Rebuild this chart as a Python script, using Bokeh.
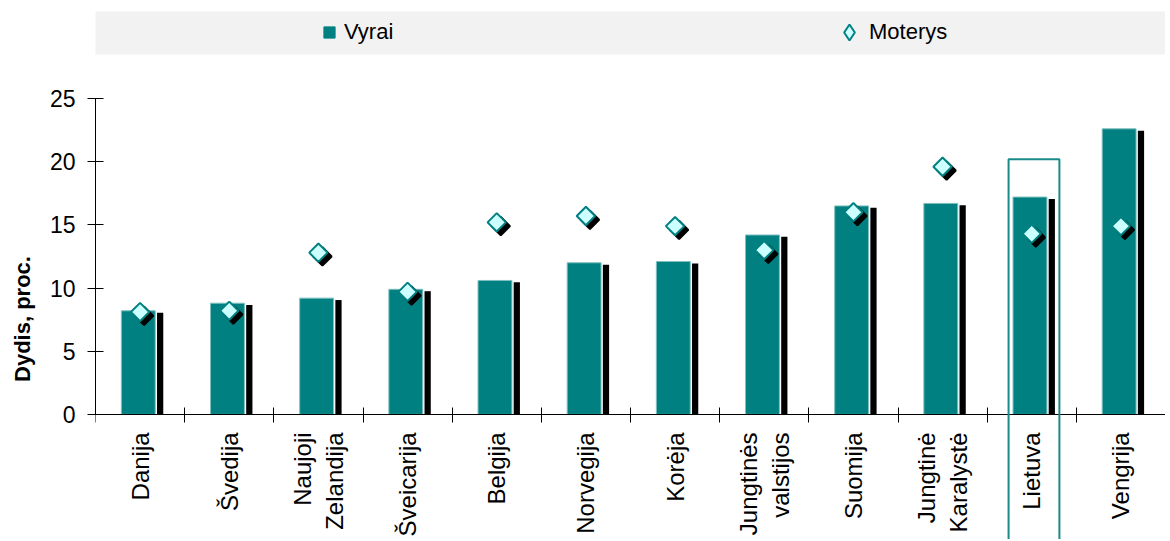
import math
from bokeh.plotting import figure
from bokeh.models import (Range1d, LinearAxis, FixedTicker, PolyAnnotation, Legend,
                          LegendItem, ColumnDataSource)
from bokeh.layouts import column
from bokeh.transform import dodge
from bokeh.embed import file_html
from bokeh.resources import INLINE

# ---------------- data ----------------
countries = ["Danija", "Švedija", "Naujoji\nZelandija", "Šveicarija", "Belgija",
             "Norvegija", "Korėja", "Jungtinės\nvalstijos", "Suomija",
             "Jungtinė\nKaralystė", "Lietuva", "Vengrija"]
vyrai = [8.2, 8.8, 9.2, 9.9, 10.6, 12.0, 12.1, 14.2, 16.5, 16.7, 17.2, 22.6]
moterys = [8.1, 8.2, 12.8, 9.7, 15.2, 15.7, 14.9, 13.0, 16.0, 19.6, 14.3, 14.9]
y_ticks = [0, 5, 10, 15, 20, 25]
series_names = ["Vyrai", "Moterys"]
highlight_country = "Lietuva"
highlight_top = 20.2
y_label = "Dydis, proc."

# ---------------- style / layout ----------------
TEAL = "#008080"
FONT = "Liberation Sans"
W = 1165
Y_MAX = 25
Y_VIEW_MIN = -9.9   # room below zero for the category labels

idx = list(range(len(countries)))
src = ColumnDataSource(dict(
    xc=[i + 0.5 for i in idx],
    vyrai=vyrai,
    moterys=moterys,
    shadow_top=[v - 0.15 for v in vyrai],
))

# ---------------- main plot ----------------
p = figure(width=W, height=480, x_range=Range1d(0, len(countries)),
           y_range=Range1d(Y_VIEW_MIN, Y_MAX),
           x_axis_type=None, y_axis_type=None, toolbar_location=None,
           output_backend="svg", min_border_left=95, min_border_right=0,
           min_border_top=39, min_border_bottom=0)
p.outline_line_color = None

# shadow bars
p.vbar(x=dodge("xc", 0.225, range=p.x_range), top="shadow_top", bottom=0, width=0.07,
       source=src, fill_color="black", line_color=None)
# teal bars
p.vbar(x=dodge("xc", -0.02, range=p.x_range), top="vyrai", bottom=0, width=0.38,
       source=src, fill_color=TEAL, line_color="#7fbfbf", line_width=1)
# diamond shadows
p.scatter(x=dodge("xc", 0.045, range=p.x_range), y=dodge("moterys", -0.3, range=p.y_range),
          source=src, marker="square", angle=math.pi / 4, size=13,
          fill_color="black", line_color="black", line_width=2)
# diamonds
p.scatter(x="xc", y="moterys", source=src, marker="square", angle=math.pi / 4, size=13,
          fill_color="#ccffff", line_color=TEAL, line_width=2)

# highlight box (runs down through the label area)
hi = countries.index(highlight_country)
hl, hr = hi + 0.24, hi + 0.81
p.add_layout(PolyAnnotation(xs=[hl, hl, hr, hr],
                            ys=[Y_VIEW_MIN - 2, highlight_top, highlight_top, Y_VIEW_MIN - 2],
                            fill_alpha=0, line_color="#1a8a8a", line_alpha=1, line_width=2,
                            level="overlay"))

# y axis
yax = LinearAxis(ticker=FixedTicker(ticks=y_ticks), axis_label=y_label, bounds=(0, Y_MAX))
yax.major_tick_in = 8
yax.major_tick_out = 8
yax.minor_tick_line_color = None
yax.major_label_standoff = 12
yax.major_label_text_font = FONT
yax.major_label_text_font_size = "23px"
yax.major_label_text_color = "black"
yax.axis_label_text_font = FONT
yax.axis_label_text_font_size = "22px"
yax.axis_label_text_font_style = "bold"
yax.axis_label_text_color = "black"
yax.axis_label_standoff = 12
yax.axis_line_color = "black"
yax.major_tick_line_color = "black"
p.add_layout(yax, "left")

# x axis: separators, drawn at y = 0
xa = LinearAxis(ticker=FixedTicker(ticks=list(range(len(countries) + 1))), fixed_location=0)
xa.major_tick_in = 7
xa.major_tick_out = 8
xa.major_label_text_font_size = "0px"
xa.major_label_standoff = 0
xa.minor_tick_line_color = None
xa.axis_line_color = "black"
xa.major_tick_line_color = "black"
p.add_layout(xa, "below")

# x axis: category labels, hanging below y = 0
xb = LinearAxis(ticker=FixedTicker(ticks=[i + 0.5 for i in idx]), fixed_location=0,
                major_label_overrides={i + 0.5: c for i, c in zip(idx, countries)})
xb.axis_line_color = None
xb.major_tick_line_color = None
xb.minor_tick_line_color = None
xb.major_tick_in = 0
xb.major_tick_out = 0
xb.major_label_orientation = math.pi / 2
xb.major_label_standoff = 18
xb.major_label_text_font = FONT
xb.major_label_text_font_size = "24px"
xb.major_label_text_color = "black"
p.add_layout(xb, "below")

# ---------------- legend strip ----------------
lg = figure(width=W, height=59, x_range=Range1d(0, 1), y_range=Range1d(0, 1),
            x_axis_type=None, y_axis_type=None, toolbar_location=None,
            output_backend="svg", min_border_left=94, min_border_right=0,
            min_border_top=11, min_border_bottom=5)
lg.outline_line_color = None
lg.background_fill_color = "#f2f2f2"
r1 = lg.scatter(x=[-10], y=[-10], marker="square", fill_color=TEAL, line_color=TEAL)
r2 = lg.scatter(x=[-10], y=[-10], marker="diamond", fill_color="#ccffff",
                line_color=TEAL, line_width=2)
common = dict(orientation="horizontal", padding=0, background_fill_alpha=0,
              border_line_color=None, label_text_font=FONT,
              label_text_font_size="22px", label_text_color="black")
leg1 = Legend(items=[LegendItem(label=series_names[0], renderers=[r1])],
              location=(220, 8), glyph_width=28, glyph_height=28, label_standoff=1, **common)
leg2 = Legend(items=[LegendItem(label=series_names[1], renderers=[r2])],
              location=(734, 2), glyph_width=40, glyph_height=40, label_standoff=-3, **common)
lg.add_layout(leg1)
lg.add_layout(leg2)

layout = column(lg, p, spacing=0)
open("out.html", "w").write(file_html(layout, INLINE))
